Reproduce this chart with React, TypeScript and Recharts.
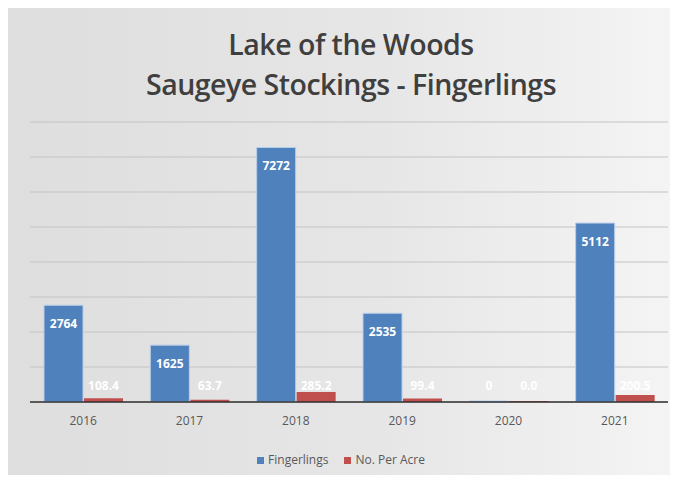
import React from 'react';
import { Bar, BarChart, CartesianGrid, XAxis, YAxis, Legend, LabelList } from 'recharts';

const years = ['2016', '2017', '2018', '2019', '2020', '2021'];
const fingerlings = [2764, 1625, 7272, 2535, 0, 5112];
const perAcre = [108.4, 63.7, 285.2, 99.4, 0.0, 200.5];
const yTicks = [0, 1000, 2000, 3000, 4000, 5000, 6000, 7000, 8000];

const chartData = years.map((year, i) => ({
  year,
  fingerlings: fingerlings[i],
  perAcre: perAcre[i],
}));

const FONT = '"Open Sans", "Noto Sans", sans-serif';

const makeLabel = (digits: number) => (props: any) => {
  const { x, y, width, height, value } = props;
  const baseline = y + height;
  const cy = Math.min(y + 18, baseline - 17);
  return (
    <text
      x={x + width / 2}
      y={cy}
      textAnchor="middle"
      dominantBaseline="central"
      fill="#ffffff"
      fontSize={12}
      fontWeight={700}
      fontFamily={FONT}
    >
      {Number(value).toFixed(digits)}
    </text>
  );
};

export default function App() {
  return (
    <div
      style={{
        position: 'relative',
        width: 678,
        height: 483,
        margin: -8,
        background: '#ffffff',
        fontFamily: FONT,
      }}
    >
      <div
        style={{
          position: 'absolute',
          left: 8,
          top: 6,
          width: 664,
          height: 472,
          background: 'linear-gradient(to right, #dedede 0%, #e6e6e6 55%, #f4f4f4 100%)',
          boxShadow: '0 0 3px rgba(0,0,0,0.25)',
        }}
      />
      <div
        style={{
          position: 'absolute',
          top: 24,
          left: 12,
          width: 678,
          textAlign: 'center',
          color: '#3f3f3f',
          fontSize: 28.5,
          fontWeight: 600,
          lineHeight: '40px',
          letterSpacing: -0.5,
        }}
      >
        Lake of the Woods
        <br />
        Saugeye Stockings - Fingerlings
      </div>
      <div style={{ position: 'absolute', left: 0, top: 0 }}>
        <BarChart
          width={678}
          height={483}
          data={chartData}
          margin={{ top: 122, right: 10, left: 30, bottom: 0 }}
          barSize={39}
          barGap={1}
        >
          <CartesianGrid vertical={false} stroke="#c4c4c4" strokeWidth={1.2} />
          <XAxis
            dataKey="year"
            height={25}
            tickLine={false}
            axisLine={{ stroke: '#303030', strokeWidth: 1.5 }}
            tick={{ fill: '#595959', fontSize: 12, fontFamily: FONT }}
            tickMargin={8}
          />
          <YAxis hide domain={[0, 8000]} ticks={yTicks} />
          <Legend
            verticalAlign="bottom"
            height={32}
            iconType="square"
            iconSize={7}
            wrapperStyle={{ fontSize: 12, fontFamily: FONT, paddingTop: 24 }}
            formatter={(value) => <span style={{ color: '#595959', marginRight: 6 }}>{value}</span>}
          />
          <Bar
            dataKey="fingerlings"
            name="Fingerlings"
            fill="#4F81BD"
            stroke="#b9cde8"
            strokeWidth={1}
            minPointSize={1}
            isAnimationActive={false}
          >
            <LabelList dataKey="fingerlings" content={makeLabel(0)} />
          </Bar>
          <Bar
            dataKey="perAcre"
            name="No. Per Acre"
            fill="#C0504D"
            minPointSize={1}
            isAnimationActive={false}
          >
            <LabelList dataKey="perAcre" content={makeLabel(1)} />
          </Bar>
        </BarChart>
      </div>
    </div>
  );
}
